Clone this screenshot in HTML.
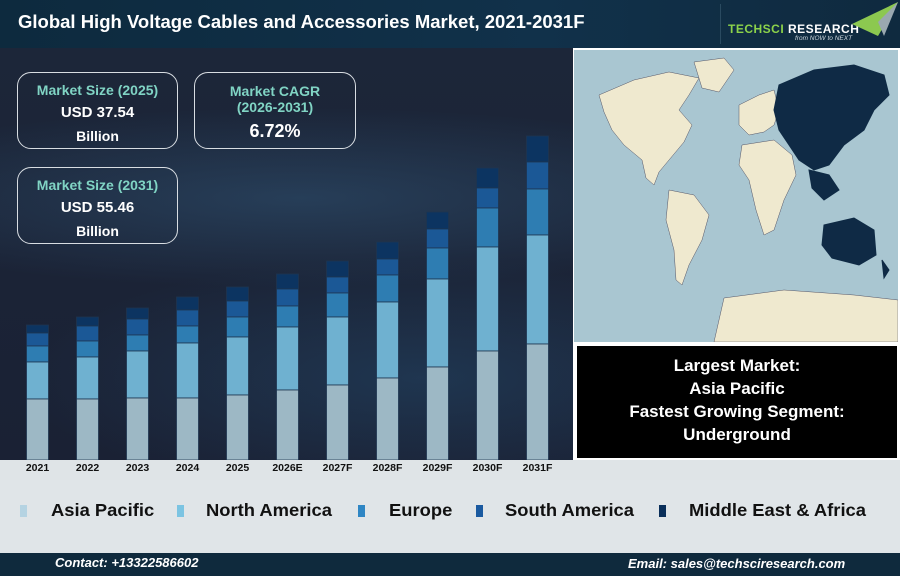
<!DOCTYPE html>
<html><head><meta charset="utf-8"><style>
body{margin:0;width:900px;height:576px;overflow:hidden;font-family:"Liberation Sans",sans-serif;position:relative;background:#1a2236}
.abs{position:absolute}
.box{position:absolute;border:1.5px solid #d8dde2;border-radius:14px;text-align:center;color:#fff;font-weight:bold;box-sizing:border-box}
.t{color:#80d4c4;font-size:14px}
.leg{position:absolute;top:500px;font-size:17.5px;font-weight:bold;color:#111;transform:scaleX(1.05);transform-origin:left}
.sw{position:absolute;top:505px;width:7px;height:12px}
</style></head><body>
<div class="abs" style="left:0;top:48px;width:573px;height:412px;background:radial-gradient(ellipse 500px 90px at 300px 150px,rgba(60,110,150,0.35),transparent),radial-gradient(ellipse 400px 120px at 420px 330px,rgba(40,90,130,0.35),transparent),linear-gradient(180deg,#1c2639,#1a2134)"></div>
<div class="abs" style="left:0;top:0;width:900px;height:48px;background:linear-gradient(90deg,#0d2a3e,#11314a 60%,#0f2a3f)"></div>
<div class="abs" style="left:18px;top:11px;color:#fff;font-size:18.5px;font-weight:bold">Global High Voltage Cables and Accessories Market, 2021-2031F</div>
<div class="abs" style="left:720px;top:4px;width:1px;height:40px;background:#2a4a60"></div>
<div class="abs" style="left:728px;top:22px;font-size:12px;font-weight:bold;letter-spacing:0.5px"><span style="color:#8cd24a">TECHSCI</span> <span style="color:#fff">RESEARCH</span></div>
<div class="abs" style="left:795px;top:35px;font-size:6.5px;font-style:italic;color:#cfd8dd">from NOW to NEXT</div>
<svg class="abs" style="left:852px;top:2px" width="46" height="34"><polygon points="0,22 46,0 26,34" fill="#8cc850"/><polygon points="26,20 46,0 32,34" fill="#9aa8b0"/></svg>

<div class="box" style="left:17px;top:72px;width:161px;height:77px"><div class="t" style="margin-top:9px">Market Size (2025)</div><div style="font-size:15px;margin-top:6px">USD 37.54</div><div style="font-size:14px;margin-top:7px">Billion</div></div>
<div class="box" style="left:194px;top:72px;width:162px;height:77px"><div class="t" style="margin-top:10px;line-height:16px">Market CAGR<br>(2026-2031)</div><div style="font-size:18px;margin-top:6px">6.72%</div></div>
<div class="box" style="left:17px;top:167px;width:161px;height:77px"><div class="t" style="margin-top:9px">Market Size (2031)</div><div style="font-size:15px;margin-top:6px">USD 55.46</div><div style="font-size:14px;margin-top:7px">Billion</div></div>

<svg class="abs" style="left:0;top:0" width="573" height="480">
<g stroke="#1e3550" stroke-width="0.8" id="bars"></g>
<line x1="0" y1="460.5" x2="573" y2="460.5" stroke="#c0c8d0"/>
</svg>
<div class="abs" style="left:0;top:460px;width:573px;height:20px;background:#dfe4e7"></div>
<div class="abs" style="left:573px;top:460px;width:327px;height:20px;background:#dfe4e7"></div>
<div id="xl"></div>

<div class="abs" style="left:573px;top:48px;width:327px;height:412px;background:#fff"></div>
<svg class="abs" style="left:574px;top:50px" width="324" height="292" viewBox="0 0 324 292">
<rect width="324" height="292" fill="#a9c6d1"/>
<g fill="#efe9cf" stroke="#556" stroke-width="0.5">
<path d="M25,45 L60,30 L95,22 L125,28 L115,45 L105,60 L118,75 L110,92 L95,110 L85,122 L80,135 L72,128 L68,110 L50,95 L38,80 L30,62 Z"/>
<path d="M120,12 L150,8 L160,20 L145,42 L128,38 Z"/>
<path d="M95,140 L120,145 L135,165 L128,190 L115,215 L108,235 L102,230 L100,200 L92,170 Z"/>
<path d="M165,55 L185,45 L200,40 L205,60 L200,75 L190,82 L175,85 L165,75 Z"/>
<path d="M168,95 L200,90 L218,105 L222,125 L210,150 L200,180 L190,185 L182,160 L175,130 L165,115 Z"/>
<path d="M150,248 L210,240 L280,245 L324,250 L324,292 L140,292 Z"/>
</g>
<g fill="#0f2a45" stroke="#0f2a45">
<path d="M205,35 L240,20 L280,15 L310,25 L315,45 L300,60 L290,80 L270,95 L255,115 L240,120 L225,110 L215,95 L205,80 L200,60 Z"/>
<path d="M235,120 L255,125 L265,140 L250,150 L238,138 Z"/>
<path d="M250,175 L280,168 L300,180 L302,205 L285,215 L258,208 L248,195 Z"/>
<path d="M308,210 L315,220 L310,228 Z"/>
</g>
</svg>
<div class="abs" style="left:576px;top:345px;width:322px;height:114px;background:#000;border:1.5px solid #fff;box-sizing:border-box;color:#fff;font-size:17px;font-weight:bold;text-align:center;line-height:23px;padding-top:8px">Largest Market:<br>Asia Pacific<br>Fastest Growing Segment:<br>Underground</div>

<div class="abs" style="left:0;top:480px;width:900px;height:73px;background:#e0e5e8"></div>
<div class="sw" style="left:20px;background:#b5d3e2"></div><div class="leg" style="left:51px">Asia Pacific</div>
<div class="sw" style="left:177px;background:#7cc4e2"></div><div class="leg" style="left:206px">North America</div>
<div class="sw" style="left:358px;background:#2f86c4"></div><div class="leg" style="left:389px">Europe</div>
<div class="sw" style="left:476px;background:#1a5aa0"></div><div class="leg" style="left:505px">South America</div>
<div class="sw" style="left:659px;background:#0a2f5a"></div><div class="leg" style="left:689px">Middle East &amp; Africa</div>
<div class="abs" style="left:0;top:553px;width:900px;height:23px;background:#0f2a3d"></div>
<div class="abs" style="left:55px;top:555px;color:#fff;font-size:13px;font-weight:bold;font-style:italic">Contact: +13322586602</div>
<div class="abs" style="left:628px;top:556px;color:#fff;font-size:13px;font-weight:bold;font-style:italic">Email: sales@techsciresearch.com</div>
<script>
var d=[[325,333,346,362,399],[317,326,341,357,399],[308,319,335,351,398],[297,310,326,343,398],[287,301,317,337,395],[274,289,306,327,390],[261,277,293,317,385],[242,259,275,302,378],[212,229,248,279,367],[168,188,208,247,351],[136,162,189,235,344]];
var L=["2021","2022","2023","2024","2025","2026E","2027F","2028F","2029F","2030F","2031F"];
var c=["#0c3461","#1b5896","#2e7db2","#6fb1d0","#9db8c5"];
var g=document.getElementById("bars"),h="",xl="";
d.forEach(function(a,i){var x=26.5+i*50;var b=a.concat([460]);for(var k=0;k<5;k++){h+='<rect x="'+x+'" y="'+b[k]+'" width="22" height="'+(b[k+1]-b[k])+'" fill="'+c[k]+'"/>';}
xl+='<div style="position:absolute;left:'+(x-13.5)+'px;width:49px;text-align:center;top:462px;font-size:10.5px;font-weight:bold;color:#111">'+L[i]+'</div>';});
g.innerHTML=h;document.getElementById("xl").innerHTML=xl;
</script>
</body></html>
